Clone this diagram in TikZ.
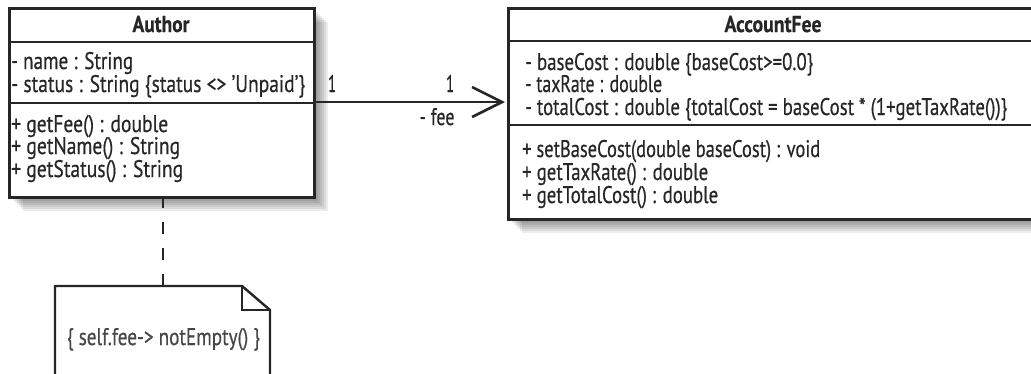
\documentclass[tikz,border=0pt]{standalone}
\usepackage{graphicx}
\usepackage{fontspec}
\setmainfont{PT Sans}[FakeBold=0.5]
\usetikzlibrary{arrows.meta}
\definecolor{ink}{HTML}{262626}
\newcommand\fw[2]{\resizebox{#1pt}{\height}{#2}}
\tikzset{
  classbox/.style={draw=ink, line width=2.6pt, fill=white, rectangle, inner sep=0pt, anchor=north west},
  sepline/.style={draw=ink, line width=2.2pt},
  txt/.style={inner sep=0pt, anchor=base west, text=ink, font=\fontsize{24}{26}\selectfont},
  ttl/.style={inner sep=0pt, anchor=base, text=ink, font=\fontsize{23}{26}\selectfont\bfseries},
  lbl/.style={inner sep=0pt, anchor=base, text=ink, font=\fontsize{24}{26}\selectfont},
  assoc/.style={draw=ink, line width=2.4pt, -{Straight Barb[length=30pt,width=30pt,line width=2.6pt]}},
  dep/.style={draw=ink, line width=2.6pt, dash pattern=on 12pt off 14pt},
  notebox/.style={draw=ink, line width=2.4pt, fill=white}
}
\begin{document}
\begin{tikzpicture}[x=1pt,y=-1pt]
\useasboundingbox (0,0) rectangle (1031,373);
% shadows
\foreach \k in {3,5,...,15} {
  \fill[black,opacity=0.075] (8+\k,7+\k) rectangle (313+\k,196+\k);
  \fill[black,opacity=0.075] (507+\k,7+\k) rectangle (1040+\k,218+\k);
}
% Author class
\node[classbox, minimum width=305pt, minimum height=189pt] (author) at (8,7) {};
\draw[sepline] (8,42) -- (313,42);
\draw[sepline] (8,103) -- (313,103);
\node[ttl] (authorT) at (161,32) {\fw{57}{Author}};
\node[txt] (a1) at (11,69) {\fw{122}{- name : String}};
\node[txt] (a2) at (11,92) {\fw{294}{- status : String \{status <> 'Unpaid'\}}};
\node[txt] (a3) at (11,132) {\fw{157}{+ getFee() : double}};
\node[txt] (a4) at (11,154) {\fw{169}{+ getName() : String}};
\node[txt] (a5) at (11,177) {\fw{172}{+ getStatus() : String}};
% AccountFee class
\node[classbox, minimum width=533pt, minimum height=211pt] (fee) at (507,7) {};
\draw[sepline] (507,41) -- (1040,41);
\draw[sepline] (507,125) -- (1040,125);
\node[ttl] (feeT) at (773,32) {\fw{97}{AccountFee}};
\node[txt] (f1) at (525,70) {\fw{288}{- baseCost : double \{baseCost>=0.0\}}};
\node[txt] (f2) at (525,92) {\fw{137}{- taxRate : double}};
\node[txt] (f3) at (525,115) {\fw{482}{- totalCost : double \{totalCost = baseCost * (1+getTaxRate())\}}};
\node[txt] (f4) at (522,157) {\fw{298}{+ setBaseCost(double baseCost) : void}};
\node[txt] (f5) at (522,180) {\fw{186}{+ getTaxRate() : double}};
\node[txt] (f6) at (522,203) {\fw{196}{+ getTotalCost() : double}};
% association
\coordinate (assocS) at (313,102);
\coordinate (assocE) at (505,102);
\draw[assoc] (assocS) -- (assocE);
\node[lbl] (m1) at (332,92) {\fw{8}{1}};
\node[lbl] (m2) at (450,92) {\fw{8}{1}};
\node[lbl] (role) at (437,125) {\fw{35}{- fee}};
% note
\draw[notebox] (55,400) -- (55,286) -- (242,286) -- (270,310) -- (270,400);
\draw[draw=ink, line width=2.2pt] (242,286) -- (242,310) -- (270,310);
\coordinate (noteTop) at (163,286);
\node[lbl, text=ink!85] (noteT) at (163.5,345) {\fw{193}{\{ self.fee-> notEmpty() \}}};
\coordinate (authorB) at (163,196);
\draw[dep] (authorB) -- (noteTop);
\end{tikzpicture}
\end{document}
